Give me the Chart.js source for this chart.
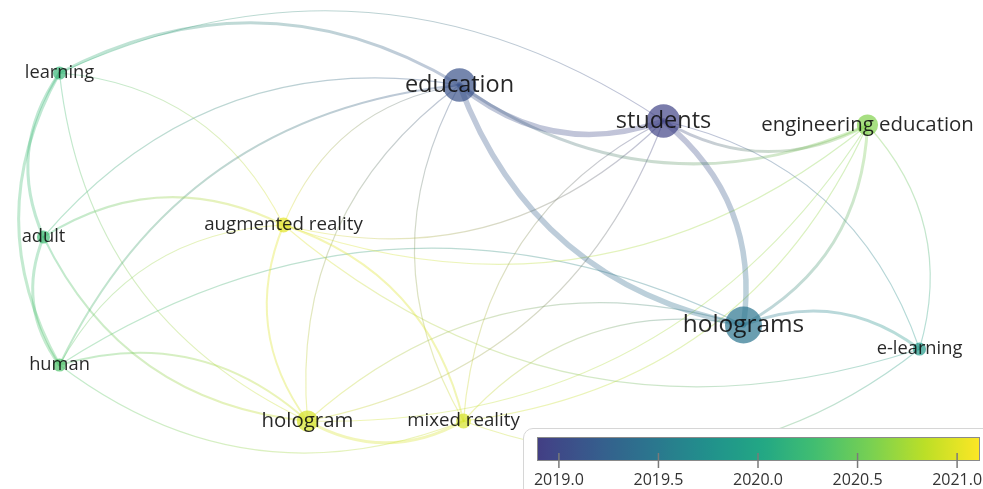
<!DOCTYPE html>
<html>
<head>
<meta charset="utf-8">
<title>Term overlay map</title>
<script src="https://cdn.jsdelivr.net/npm/chart.js@4.4.0/dist/chart.umd.min.js"></script>
<style>
  html, body { margin: 0; padding: 0; background: #fff; overflow: hidden; }
  #wrap { position: relative; width: 983px; height: 489px; }
  #map { position: absolute; left: 0; top: 0; }
  #legendBox {
    position: absolute; left: 523px; top: 428px; width: 490px; height: 90px;
    border: 1px solid #d6d6d6; border-radius: 10px; background: #fff;
  }
  #scale { position: absolute; left: 523px; top: 428px; }
</style>
</head>
<body>
<div id="wrap">
  <canvas id="map" width="983" height="489"></canvas>
  <div id="legendBox"></div>
  <canvas id="scale" width="460" height="61"></canvas>
</div>
<script>
// terms of the overlay map, with map coordinates (VOSviewer style units)
const terms = ['learning', 'adult', 'human', 'augmented reality', 'hologram', 'mixed reality',
               'education', 'students', 'engineering education', 'holograms', 'e-learning'];
const mapX = [-1.08, -1.12, -1.08, -0.52, -0.46, -0.07, -0.08, 0.43, 0.94, 0.63, 1.07];
const mapY = [0.43, 0.02, -0.30, 0.05, -0.44, -0.44, 0.40, 0.31, 0.30, -0.20, -0.26];
const occurrences = [3, 3, 3, 4, 9, 4, 24, 24, 9, 30, 3];
const avgYear = [2020.2, 2020.25, 2020.35, 2021.0, 2020.95, 2020.95, 2019.1, 2018.95, 2020.6, 2019.45, 2019.85];

// co-occurrence links: [from, to, strength]  (order sets which side the curve bends to)
const links = [
  ['students', 'learning', 1],
  ['education', 'adult', 1],
  ['augmented reality', 'learning', 1],
  ['learning', 'hologram', 1],
  ['augmented reality', 'human', 1],
  ['human', 'mixed reality', 1],
  ['holograms', 'human', 1],
  ['e-learning', 'students', 1],
  ['e-learning', 'engineering education', 1],
  ['augmented reality', 'e-learning', 1],
  ['education', 'hologram', 1],
  ['education', 'mixed reality', 1],
  ['holograms', 'hologram', 1],
  ['holograms', 'mixed reality', 1],
  ['education', 'augmented reality', 1],
  ['augmented reality', 'engineering education', 1],
  ['augmented reality', 'students', 1],
  ['hologram', 'engineering education', 1],
  ['hologram', 'students', 1],
  ['students', 'mixed reality', 1],
  ['mixed reality', 'engineering education', 1],
  ['mixed reality', 'e-learning', 1],
  ['adult', 'hologram', 2],
  ['hologram', 'human', 2],
  ['augmented reality', 'hologram', 2],
  ['mixed reality', 'augmented reality', 2],
  ['education', 'human', 2],
  ['augmented reality', 'adult', 2],
  ['education', 'learning', 3],
  ['learning', 'adult', 3],
  ['learning', 'human', 3],
  ['adult', 'human', 3],
  ['hologram', 'mixed reality', 3],
  ['education', 'engineering education', 3],
  ['students', 'engineering education', 3],
  ['holograms', 'engineering education', 3],
  ['e-learning', 'holograms', 3],
  ['education', 'students', 5],
  ['education', 'holograms', 5],
  ['holograms', 'students', 5]
];

// colour scale (average publication year)
const yearMin = 2018.89;
const yearMax = 2021.115;
const yearTicks = [2019.0, 2019.5, 2020.0, 2020.5, 2021.0];

// viridis-like palette
const palette = ['#440154', '#482475', '#414487', '#355f8d', '#2a788e', '#21918c',
                 '#22a884', '#44bf70', '#7ad151', '#bddf26', '#fde725'];

const hexRgb = h => [1, 3, 5].map(k => parseInt(h.slice(k, k + 2), 16));

const yearColor = (year, alpha) => {
  let v = 0.18 + 0.82 * (year - yearMin) / (yearMax - yearMin);
  v = Math.max(0, Math.min(1, v));
  const pos = v * (palette.length - 1);
  const k = Math.min(Math.floor(pos), palette.length - 2);
  const t = pos - k;
  const a = hexRgb(palette[k]), b = hexRgb(palette[k + 1]);
  const c = a.map((q, n) => Math.round(q + (b[n] - q) * t));
  return `rgba(${c[0]},${c[1]},${c[2]},${alpha})`;
};

const radiusFor = occ => 3.2 * Math.sqrt(occ) + 1;
const fontFor = occ => 15.4 + 1.65 * Math.sqrt(occ);
const widthFor = s => s === 1 ? 1.2 : s === 2 ? 2 : s === 3 ? 3 : 5.5;

const BEND = 0.28;

// draws the curved links under the bubbles
const linksPlugin = {
  id: 'links',
  beforeDatasetsDraw(chart) {
    const { ctx, scales: { x, y } } = chart;
    ctx.save();
    ctx.lineCap = 'round';
    links.forEach(([from, to, s]) => {
      const i = terms.indexOf(from), j = terms.indexOf(to);
      const x1 = x.getPixelForValue(mapX[i]), y1 = y.getPixelForValue(mapY[i]);
      const x2 = x.getPixelForValue(mapX[j]), y2 = y.getPixelForValue(mapY[j]);
      const dx = x2 - x1, dy = y2 - y1;
      const cx = (x1 + x2) / 2 - dy * BEND;
      const cy = (y1 + y2) / 2 + dx * BEND;
      const g = ctx.createLinearGradient(x1, y1, x2, y2);
      const alpha = s >= 3 ? 0.32 : 0.34;
      g.addColorStop(0, yearColor(avgYear[i], alpha));
      g.addColorStop(1, yearColor(avgYear[j], alpha));
      ctx.strokeStyle = g;
      ctx.lineWidth = widthFor(s);
      ctx.beginPath();
      ctx.moveTo(x1, y1);
      ctx.quadraticCurveTo(cx, cy, x2, y2);
      ctx.stroke();
    });
    ctx.restore();
  }
};

// term labels centred on the bubbles
const labelsPlugin = {
  id: 'termLabels',
  afterDatasetsDraw(chart) {
    const { ctx, scales: { x, y } } = chart;
    ctx.save();
    ctx.textAlign = 'center';
    ctx.textBaseline = 'middle';
    ctx.fillStyle = 'rgba(15,15,15,0.9)';
    terms.forEach((t, i) => {
      ctx.font = `${fontFor(occurrences[i]).toFixed(1)}px "Open Sans"`;
      ctx.fillText(t, x.getPixelForValue(mapX[i]), y.getPixelForValue(mapY[i]));
    });
    ctx.restore();
  }
};

new Chart(document.getElementById('map'), {
  type: 'bubble',
  data: {
    datasets: [{
      data: terms.map((t, i) => ({ x: mapX[i], y: mapY[i], r: radiusFor(occurrences[i]) })),
      backgroundColor: avgYear.map(v => yearColor(v, 0.7)),
      borderWidth: 0,
      hoverBorderWidth: 0
    }]
  },
  options: {
    responsive: false,
    animation: false,
    devicePixelRatio: 1,
    layout: { padding: 0, autoPadding: false },
    clip: false,
    scales: {
      x: { type: 'linear', min: -1.22875, max: 1.22875, display: false },
      y: { type: 'linear', min: -0.61, max: 0.6125, display: false }
    },
    plugins: { legend: { display: false }, tooltip: { enabled: false } }
  },
  plugins: [linksPlugin, labelsPlugin]
});

// colour bar legend drawn on its own year axis
const colorBarPlugin = {
  id: 'colorBar',
  afterDraw(chart) {
    const { ctx, chartArea: a, scales: { x } } = chart;
    ctx.save();
    const g = ctx.createLinearGradient(a.left, 0, a.right, 0);
    for (let k = 0; k <= 40; k++) {
      const yr = yearMin + (yearMax - yearMin) * k / 40;
      g.addColorStop(k / 40, yearColor(yr, 1));
    }
    ctx.fillStyle = g;
    ctx.fillRect(a.left, a.top, a.right - a.left, a.bottom - a.top);
    ctx.strokeStyle = '#8a8a8a';
    ctx.lineWidth = 1;
    ctx.strokeRect(a.left + 0.5, a.top + 0.5, a.right - a.left - 1, a.bottom - a.top - 1);
    ctx.strokeStyle = '#7a7a7a';
    ctx.lineWidth = 1.5;
    ctx.fillStyle = '#333';
    ctx.font = '16px "Open Sans"';
    ctx.textAlign = 'center';
    ctx.textBaseline = 'middle';
    yearTicks.forEach(v => {
      const px = x.getPixelForValue(v);
      ctx.beginPath();
      ctx.moveTo(px, a.bottom - 8);
      ctx.lineTo(px, a.bottom + 7);
      ctx.stroke();
      ctx.fillText(v.toFixed(1), px, 52);
    });
    ctx.restore();
  }
};

new Chart(document.getElementById('scale'), {
  type: 'scatter',
  data: { datasets: [{ data: [] }] },
  options: {
    responsive: false,
    animation: false,
    devicePixelRatio: 1,
    layout: { padding: { left: 14, right: 3, top: 9, bottom: 28 } },
    scales: {
      x: { type: 'linear', min: yearMin, max: yearMax, display: false },
      y: { display: false }
    },
    plugins: { legend: { display: false }, tooltip: { enabled: false } }
  },
  plugins: [colorBarPlugin]
});
</script>
</body>
</html>
